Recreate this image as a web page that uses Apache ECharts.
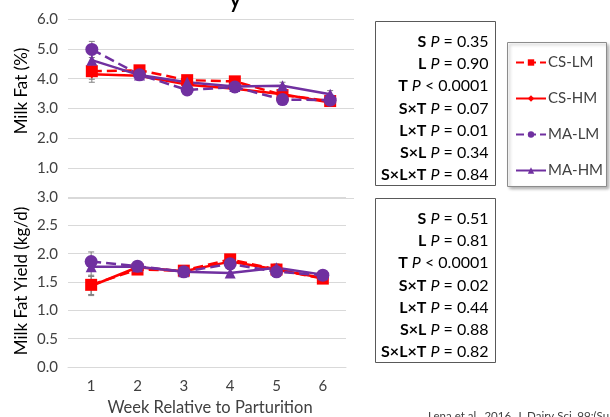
<!DOCTYPE html>
<html>
<head>
<meta charset="utf-8">
<script src="https://cdn.jsdelivr.net/npm/echarts@6/dist/echarts.min.js"></script>
<style>
  html, body { margin: 0; padding: 0; background: #fff; }
  #chart { width: 610px; height: 417px; }
</style>
</head>
<body>
<div id="chart"></div>
<script>
// Weeks relative to parturition
const weeks = ['1', '2', '3', '4', '5', '6'];
const seriesNames = ['CS-LM', 'CS-HM', 'MA-LM', 'MA-HM'];

// Milk fat concentration (%)
const fatCSLM = [4.25, 4.28, 3.95, 3.91, 3.45, 3.25];
const fatCSHM = [4.15, 4.10, 3.80, 3.66, 3.48, 3.20];
const fatMALM = [4.98, 4.13, 3.62, 3.72, 3.30, 3.28];
const fatMAHM = [4.62, 4.12, 3.88, 3.74, 3.76, 3.48];
const fatSEM  = [0.27, 0.13, 0.15, 0.12, 0.12, 0.12];

// Milk fat yield (kg/d)
const yieldCSLM = [1.45, 1.72, 1.70, 1.90, 1.72, 1.56];
const yieldCSHM = [1.43, 1.76, 1.69, 1.86, 1.72, 1.57];
const yieldMALM = [1.86, 1.78, 1.68, 1.82, 1.68, 1.62];
const yieldMAHM = [1.77, 1.77, 1.68, 1.66, 1.75, 1.63];
const yieldSEM  = [0.17, 0.07, 0.07, 0.06, 0.07, 0.07];

// Effect P-values shown beside each panel
const effectTerms = ['S', 'L', 'T', 'S×T', 'L×T', 'S×L', 'S×L×T'];
const fatP   = ['= 0.35', '= 0.90', '< 0.0001', '= 0.07', '= 0.01', '= 0.34', '= 0.84'];
const yieldP = ['= 0.51', '= 0.81', '< 0.0001', '= 0.02', '= 0.44', '= 0.88', '= 0.82'];

const RED = '#ff0000';
const PURPLE = '#7030a0';
const FONT = 'Lato, "Open Sans", sans-serif';
const TXT = '#404040';

const styles = {
  'CS-LM': { color: RED, type: 'dashed', symbol: 'rect', size: 12 },
  'CS-HM': { color: RED, type: 'solid', symbol: 'diamond', size: 8 },
  'MA-LM': { color: PURPLE, type: 'dashed', symbol: 'circle', size: 13 },
  'MA-HM': { color: PURPLE, type: 'solid', symbol: 'triangle', size: 11 }
};

function lineSeries(name, data, idx) {
  const s = styles[name];
  return {
    name: name,
    type: 'line',
    xAxisIndex: idx,
    yAxisIndex: idx,
    data: data,
    symbol: s.symbol,
    symbolSize: s.size,
    lineStyle: { color: s.color, width: 2.5, type: s.type },
    itemStyle: { color: s.color },
    z: 3,
    animation: false
  };
}

function errorSeries(values, sem, idx) {
  const data = values.map((v, i) => [i, v, sem[i]]);
  return {
    type: 'custom',
    xAxisIndex: idx,
    yAxisIndex: idx,
    z: 2,
    silent: true,
    animation: false,
    data: data,
    renderItem: function (params, api) {
      const x = api.value(0), y = api.value(1), e = api.value(2);
      const top = api.coord([x, y + e]);
      const bot = api.coord([x, y - e]);
      const cap = 3;
      const st = { stroke: '#808080', lineWidth: 1 };
      return {
        type: 'group',
        children: [
          { type: 'line', shape: { x1: top[0], y1: top[1], x2: bot[0], y2: bot[1] }, style: st },
          { type: 'line', shape: { x1: top[0] - cap, y1: top[1], x2: top[0] + cap, y2: top[1] }, style: st },
          { type: 'line', shape: { x1: bot[0] - cap, y1: bot[1], x2: bot[0] + cap, y2: bot[1] }, style: st }
        ]
      };
    }
  };
}

function pBox(left, top, values) {
  const children = [{
    type: 'rect',
    shape: { x: 0, y: 0, width: 120, height: 164 },
    style: { fill: '#fff', stroke: '#595959', lineWidth: 1 }
  }];
  effectTerms.forEach((t, i) => {
    children.push({
      type: 'text',
      x: 113,
      y: 20 + i * 22.3,
      style: {
        text: '{b|' + t + '} {i|P} ' + values[i],
        align: 'right',
        verticalAlign: 'middle',
        rich: {
          b: { fontFamily: FONT, fontSize: 16, fontWeight: 'bold', fill: '#000' },
          i: { fontFamily: FONT, fontSize: 16, fontStyle: 'italic', fill: '#000' }
        },
        fontFamily: FONT, fontSize: 16, fill: '#000'
      }
    });
  });
  return { type: 'group', left: left, top: top, children: children };
}

const gridLine = { show: true, lineStyle: { color: '#d9d9d9', width: 1 } };
const tickLabel = { color: TXT, fontFamily: FONT, fontSize: 15, margin: 10 };

const option = {
  backgroundColor: '#fff',
  grid: [
    { left: 68, top: 19, width: 286, height: 179 },
    { left: 68, top: 197, width: 278, height: 170 }
  ],
  xAxis: [
    { type: 'category', gridIndex: 0, data: weeks, show: false },
    {
      type: 'category', gridIndex: 1, data: weeks,
      axisLine: { show: true, lineStyle: { color: '#d9d9d9' } },
      axisTick: { show: false },
      axisLabel: Object.assign({}, tickLabel, { margin: 12 })
    }
  ],
  yAxis: [
    {
      type: 'value', gridIndex: 0, min: 0, max: 6, interval: 1,
      axisLine: { show: false }, axisTick: { show: false },
      splitLine: gridLine,
      axisLabel: Object.assign({}, tickLabel, {
        formatter: v => (v === 0 ? '' : v.toFixed(1))
      })
    },
    {
      type: 'value', gridIndex: 1, min: 0, max: 3, interval: 0.5,
      axisLine: { show: false }, axisTick: { show: false },
      splitLine: gridLine,
      axisLabel: Object.assign({}, tickLabel, { formatter: v => v.toFixed(1) })
    }
  ],
  legend: {
    data: seriesNames,
    orient: 'vertical',
    left: 507,
    top: 43,
    itemWidth: 30,
    itemHeight: 8,
    itemGap: 21,
    padding: [12, 8, 12, 8],
    borderWidth: 0,
    z: 10,
    textStyle: { color: TXT, fontFamily: FONT, fontSize: 15, padding: [0, 0, 0, -3] }
  },
  graphic: [
    pBox(375, 21, fatP),
    pBox(375, 198, yieldP),
    {
      // legend frame
      type: 'rect', left: 507, top: 42, z: -1,
      shape: { x: 0, y: 0, width: 99, height: 144 },
      style: {
        fill: '#fff', stroke: '#8c8c8c', lineWidth: 1,
        shadowColor: 'rgba(0,0,0,0.3)', shadowBlur: 3, shadowOffsetX: 2, shadowOffsetY: 2
      }
    },
    {
      type: 'text', rotation: Math.PI / 2,
      x: 22, y: 91,
      style: { text: 'Milk Fat (%)', align: 'center', verticalAlign: 'middle',
               fontFamily: FONT, fontSize: 17, fill: '#000' }
    },
    {
      type: 'text', rotation: Math.PI / 2,
      x: 22, y: 281,
      style: { text: 'Milk Fat Yield (kg/d)', align: 'center', verticalAlign: 'middle',
               fontFamily: FONT, fontSize: 17, fill: '#000' }
    },
    {
      type: 'text', x: 210, y: 408,
      style: { text: 'Week Relative to Parturition', align: 'center', verticalAlign: 'middle',
               fontFamily: FONT, fontSize: 16.5, fill: TXT }
    },
    {
      type: 'text', x: 228, y: -16,
      style: { text: 'y', fontFamily: FONT, fontSize: 28, fill: '#000' }
    },
    {
      type: 'text', x: 428, y: 410,
      style: { text: 'Lena et al., 2016, J. Dairy Sci. 99:(Suppl. 1)', fontFamily: FONT, fontSize: 11.5, fill: '#404040' }
    }
  ],
  series: [
    errorSeries(fatCSLM, fatSEM, 0),
    errorSeries(fatCSHM, fatSEM, 0),
    errorSeries(fatMALM, fatSEM, 0),
    errorSeries(fatMAHM, fatSEM, 0),
    errorSeries(yieldCSLM, yieldSEM, 1),
    errorSeries(yieldCSHM, yieldSEM, 1),
    errorSeries(yieldMALM, yieldSEM, 1),
    errorSeries(yieldMAHM, yieldSEM, 1),
    lineSeries('CS-LM', fatCSLM, 0),
    lineSeries('CS-HM', fatCSHM, 0),
    lineSeries('MA-LM', fatMALM, 0),
    lineSeries('MA-HM', fatMAHM, 0),
    lineSeries('CS-LM', yieldCSLM, 1),
    lineSeries('CS-HM', yieldCSHM, 1),
    lineSeries('MA-LM', yieldMALM, 1),
    lineSeries('MA-HM', yieldMAHM, 1)
  ]
};

const chart = echarts.init(document.getElementById('chart'), null, { renderer: 'canvas' });
chart.setOption(option);
</script>
</body>
</html>
